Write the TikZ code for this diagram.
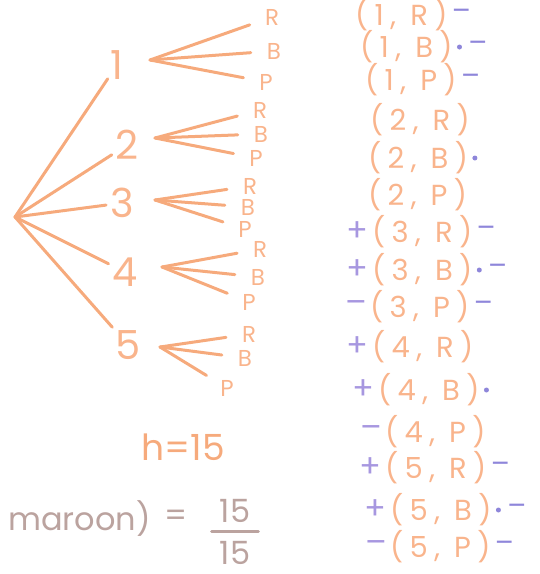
\documentclass[tikz,border=0pt]{standalone}
\usepackage{fontspec}
\setmainfont{Poppins}
\usetikzlibrary{positioning}
\definecolor{peach}{HTML}{F9B48C}
\definecolor{twig}{HTML}{F6AA7C}
\definecolor{lilac}{HTML}{A797E0}
\definecolor{ink}{HTML}{8E86DA}
\definecolor{dusk}{HTML}{BBA39F}
\tikzset{
	digit/.style={text=peach, font=\fontsize{40}{40}\selectfont, inner sep=1pt},
	leaf/.style={text=peach, font=\fontsize{23}{23}\selectfont, inner sep=0pt},
	pair/.style={text=peach, font=\fontsize{29}{29}\selectfont\addfontfeature{LetterSpace=22}, inner sep=0pt, anchor=west},
	sign/.style={text=lilac, font=\fontsize{32}{32}\selectfont, inner sep=1pt},
	rmark/.style={text=ink, font=\fontsize{28}{28}\selectfont, inner sep=1pt},
	dot/.style={circle, fill=ink, inner sep=0pt, minimum size=5pt},
	branch/.style={draw=twig, line width=3pt},
	note/.style={text=dusk, font=\fontsize{32}{32}\selectfont, inner sep=0pt}
}
\begin{document}
\begin{tikzpicture}[x=1pt, y=-1pt, line cap=round, line join=round]
	\useasboundingbox (0,0) rectangle (540,574);
	\path (15,217) coordinate (root)
	(150,60) coordinate (b1)
	(155,138) coordinate (b2)
	(155,200) coordinate (b3)
	(162,267) coordinate (b4)
	(160,347) coordinate (b5);
	
	\foreach \i/\x/\y in {1/117/65, 2/127/145, 3/122/203, 4/125/272, 5/128/345}
		\node[digit] (n\i) at (\x,\y) {\i};
	\foreach \i/\c/\x/\y in {1/R/272/17, 1/B/274/51, 1/P/266/82, 2/R/260/110, 2/B/261/134, 2/P/256/158,
		3/R/250/186, 3/B/248/207, 3/P/245/229, 4/R/260/249, 4/B/258/277, 4/P/249/302,
		5/R/249/334, 5/B/245/358, 5/P/227/388}
		\node[leaf] (l\i\c) at (\x,\y) {\c};
	
	\foreach \i in {1,...,5} {
		\draw[branch, shorten >=3pt] (root) -- (n\i);
		\foreach \c in {R,B,P}
			\draw[branch, shorten >=16pt] (b\i) -- (l\i\c);
	}
	
	\foreach \i/\c/\x/\y in {1/R/355/15, 1/B/360/47, 1/P/365/80, 2/R/370/120, 2/B/368/158, 2/P/368/195,
		3/R/372/232, 3/B/372/270, 3/P/370/307, 4/R/372/347, 4/B/378/390, 4/P/385/432,
		5/R/385/468, 5/B/390/510, 5/P/390/547}
		\node[pair] (o\i\c) at (\x,\y) {(\i, \c)};
	
	\foreach \u in {3R,3B,4R,4B,5R,5B}
		\node[sign, left=2pt of o\u] {+};
	\foreach \u in {3P,4P,5P}
		\node[sign, left=2pt of o\u] {\textendash};
	\foreach \u in {1B,2B,3B,4B,5B}
		\node[dot, right=4pt of o\u] (d\u) {};
	\foreach \u in {1R,1P,3R,3P,5R,5P}
		\node[rmark, right=3pt of o\u] {\textendash};
	\foreach \u in {1B,3B,5B}
		\node[rmark, right=5pt of d\u] {\textendash};
	
	\node[text=twig, font=\fontsize{36}{36}\selectfont, anchor=base west] (h) at (138,460) {h=15};
	\node[note, anchor=base west] (m) at (8,530) {maroon)};
	\node[note, right=13pt of m] (eq) {=};
	\node[note] (num) at (235,511) {15};
	\node[note] (den) at (235,553) {15};
	\draw[dusk, line width=2.8pt] ([xshift=-8pt, yshift=-9pt]num.south west) -- ([xshift=8pt, yshift=-9pt]num.south east);
\end{tikzpicture}
\end{document}
